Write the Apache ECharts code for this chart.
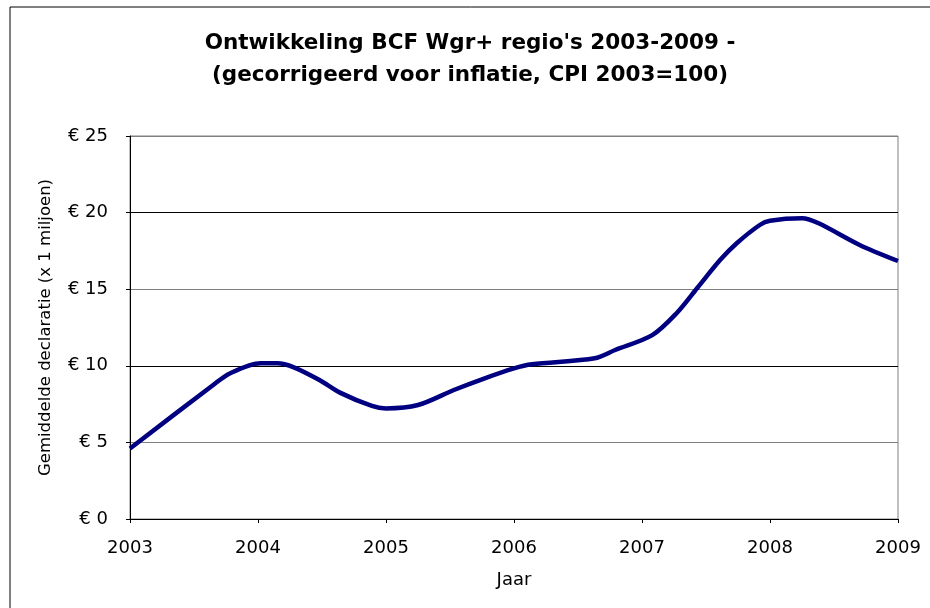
<!DOCTYPE html>
<html>
<head>
<meta charset="utf-8">
<script src="https://cdn.jsdelivr.net/npm/echarts@6/dist/echarts.min.js"></script>
<style>html,body{margin:0;padding:0;background:#fff}#c{width:930px;height:608px}</style>
</head>
<body>
<div id="c"></div>
<script>
var titleLines = ["Ontwikkeling BCF Wgr+ regio's 2003-2009 -", "(gecorrigeerd voor inflatie, CPI 2003=100)"];
var xName = "Jaar";
var yName = "Gemiddelde declaratie (x 1 miljoen)";
var years = [2003.0, 2003.65, 2003.78, 2004.02, 2004.15, 2004.28, 2004.48, 2004.64, 2004.89, 2005.0, 2005.25, 2005.53, 2005.75, 2006.0, 2006.14, 2006.63, 2006.79, 2007.08, 2007.27, 2007.43, 2007.61, 2007.74, 2007.92, 2008.0, 2008.25, 2008.38, 2008.7, 2009.0];
var values = [4.6, 8.75, 9.5, 10.16, 10.16, 9.9, 9.07, 8.25, 7.38, 7.22, 7.44, 8.42, 9.12, 9.83, 10.1, 10.49, 11.03, 12.0, 13.43, 15.06, 16.9, 18.0, 19.19, 19.47, 19.63, 19.3, 17.89, 16.84];
var yTicks = [0, 5, 10, 15, 20, 25];

var font = "DejaVu Sans";
var chart = echarts.init(document.getElementById('c'), null, {renderer: 'canvas'});
var data = years.map(function (y, i) { return [y, values[i]]; });
chart.setOption({
  backgroundColor: '#fff',
  animation: false,
  title: {
    text: titleLines.join('\n'),
    left: 465, top: 22, textAlign: 'center',
    textStyle: {fontFamily: font, fontWeight: 'bold', fontSize: 21.5, color: '#000', lineHeight: 32}
  },
  graphic: [{
    type: 'rect', shape: {x: 10, y: 7, width: 940, height: 620},
    style: {fill: 'none', stroke: '#000', lineWidth: 1}, silent: true, z: 100
  }],
  grid: {left: 130, right: 32, top: 136, bottom: 89, show: true, borderColor: '#808080', borderWidth: 1},
  xAxis: {
    type: 'value', min: 2003, max: 2009, interval: 1,
    name: xName, nameLocation: 'middle', nameGap: 52,
    nameTextStyle: {fontFamily: font, fontSize: 18, color: '#000'},
    axisLine: {show: true, lineStyle: {color: '#000', width: 1}},
    axisTick: {show: true, length: 4, lineStyle: {color: '#000'}},
    axisLabel: {fontFamily: font, fontSize: 18, color: '#000', margin: 20, formatter: function (v) { return String(v); }},
    splitLine: {show: false}
  },
  yAxis: {
    type: 'value', min: yTicks[0], max: yTicks[yTicks.length - 1], interval: 5,
    name: yName, nameLocation: 'middle', nameGap: 76, nameRotate: 90,
    nameTextStyle: {fontFamily: font, fontSize: 16.5, color: '#000'},
    axisLine: {show: true, lineStyle: {color: '#000', width: 1}},
    axisTick: {show: true, length: 4, lineStyle: {color: '#000'}},
    axisLabel: {fontFamily: font, fontSize: 18, color: '#000', margin: 22, formatter: function (v) { return '€ ' + v; }},
    splitLine: {show: true, lineStyle: {color: ['#000', '#808080'], width: 1}}
  },
  series: [{
    type: 'line', data: data, smooth: 0.3, symbol: 'none',
    lineStyle: {color: '#000080', width: 4.5}
  }]
});
</script>
</body>
</html>
